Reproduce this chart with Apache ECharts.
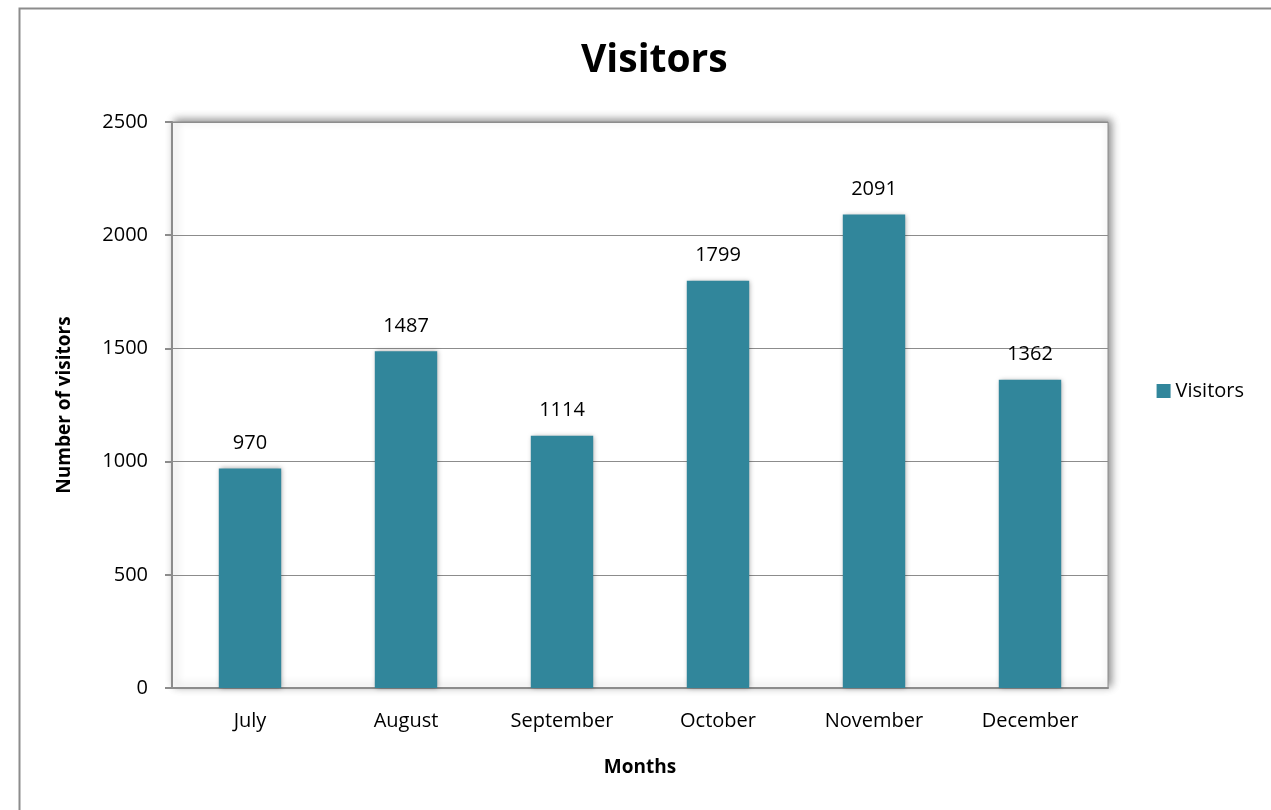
<!DOCTYPE html>
<html lang="en">
<head>
    <meta charset="UTF-8">
    <title>Visitors</title>
    <script src="https://cdn.jsdelivr.net/npm/echarts@6/dist/echarts.min.js"></script>
    <style>
        html, body { margin: 0; padding: 0; background: #fff; }
        #chart { width: 1271px; height: 810px; }
    </style>
</head>
<body>
<div id="chart"></div>
<script>
    // data
    var months = ['July', 'August', 'September', 'October', 'November', 'December'];
    var visitors = [970, 1487, 1114, 1799, 2091, 1362];
    var yTicks = [0, 500, 1000, 1500, 2000, 2500];

    var font = '"Open Sans", "Noto Sans", sans-serif';
    var mychart = echarts.init(document.getElementById('chart'));

    var option = {
        backgroundColor: '#fff',
        textStyle: { fontFamily: font },
        animation: false,
        title: {
            text: 'Visitors',
            left: 576,
            top: 36,
            textStyle: { fontSize: 39, fontWeight: 'bold', color: '#000', fontFamily: font }
        },
        graphic: [{
            type: 'rect',
            shape: { x: 19.5, y: 8.5, width: 1300, height: 900 },
            style: { fill: 'none', stroke: '#8c8c8c', lineWidth: 2 },
            z: -10
        }],
        legend: {
            data: ['Visitors'],
            right: 22,
            top: 376,
            itemWidth: 14,
            itemHeight: 14,
            itemGap: 6,
            icon: 'rect',
            textStyle: { fontSize: 20, color: '#000', fontFamily: font }
        },
        grid: {
            left: 172,
            right: 163,
            top: 122,
            bottom: 122,
            show: true,
            backgroundColor: '#fff',
            borderColor: '#8c8c8c',
            borderWidth: 1,
            shadowBlur: 8,
            shadowColor: 'rgba(0,0,0,0.45)',
            shadowOffsetX: 3,
            shadowOffsetY: -2
        },
        xAxis: {
            type: 'category',
            data: months,
            name: 'Months',
            nameLocation: 'middle',
            nameGap: 70,
            nameTextStyle: { fontSize: 19, fontWeight: 'bold', color: '#000' },
            axisLine: { lineStyle: { color: '#8c8c8c', width: 2 } },
            axisTick: { show: false },
            axisLabel: { fontSize: 20, color: '#000', margin: 23 }
        },
        yAxis: {
            type: 'value',
            min: yTicks[0],
            max: yTicks[yTicks.length - 1],
            interval: yTicks[1] - yTicks[0],
            name: 'Number of visitors',
            nameLocation: 'middle',
            nameGap: 98,
            nameTextStyle: { fontSize: 19, fontWeight: 'bold', color: '#000' },
            axisLine: { show: true, lineStyle: { color: '#8c8c8c', width: 2 } },
            axisTick: { show: true, length: 7, lineStyle: { color: '#8c8c8c', width: 2 } },
            axisLabel: {
                fontSize: 20, color: '#000', margin: 24,
                formatter: function (v) { return String(v); }
            },
            splitLine: { lineStyle: { color: '#8c8c8c', width: 1 } }
        },
        series: [{
            name: 'Visitors',
            type: 'bar',
            data: visitors,
            barWidth: '40%',
            itemStyle: {
                color: '#31869b',
                shadowBlur: 5,
                shadowColor: 'rgba(0,0,0,0.35)',
                shadowOffsetX: 1
            },
            label: {
                show: true,
                position: 'top',
                distance: 15,
                fontSize: 20,
                color: '#000'
            }
        }]
    };
    mychart.setOption(option);
</script>
</body>
</html>
